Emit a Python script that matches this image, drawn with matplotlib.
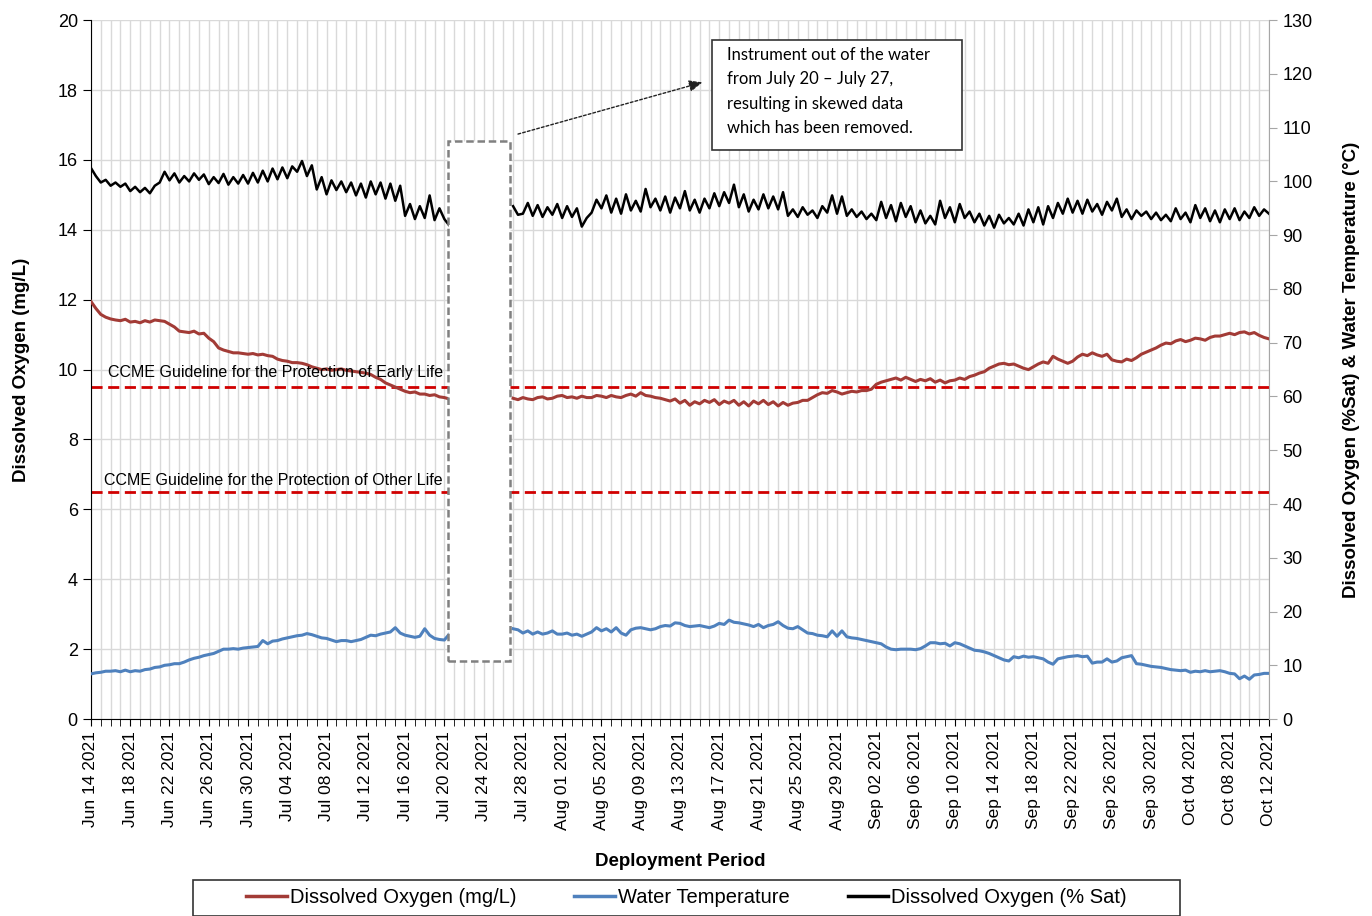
import matplotlib
matplotlib.use("Agg")
import matplotlib.pyplot as plt
import matplotlib.dates as mdates
from matplotlib.patches import Rectangle
import pandas as pd

plt.rcParams['font.family'] = ['Liberation Sans', 'DejaVu Sans']

# readings every 12 h, two logger segments (instrument out of water Jul 20 - Jul 27)
seg1_start = '2021-06-14 00:00'
seg2_start = '2021-07-27 00:00'

# Dissolved oxygen (% sat), right axis
do_sat_1 = [
    102.5, 101.0, 99.8, 100.3, 99.2, 99.8, 99.0, 99.6, 98.2, 99.0,
    98.0, 98.8, 97.8, 99.2, 99.8, 101.8, 100.2, 101.5, 99.8, 101.0,
    100.0, 101.5, 100.3, 101.3, 99.5, 100.8, 99.7, 101.4, 99.4, 100.8,
    99.6, 101.2, 99.6, 101.6, 99.8, 102.0, 100.0, 102.4, 100.4, 102.6,
    100.6, 102.8, 101.8, 103.8, 101.0, 103.0, 98.5, 100.8, 97.6, 100.2,
    98.4, 100.0, 98.0, 99.8, 97.4, 99.6, 97.0, 100.0, 97.6, 99.8,
    96.8, 99.6, 96.4, 99.2, 93.6, 95.8, 93.0, 95.4, 93.2, 97.4,
    92.8, 95.0, 93.0, 91.8,
]
do_sat_2 = [
    95.4, 93.8, 94.0, 96.0, 93.6, 95.6, 93.4, 95.2, 93.8, 95.8,
    93.2, 95.4, 93.4, 95.0, 91.6, 93.2, 94.2, 96.6, 95.0, 97.4,
    94.2, 96.8, 94.0, 97.6, 94.6, 96.4, 94.4, 98.6, 95.2, 96.8,
    94.6, 97.2, 94.2, 97.0, 95.0, 98.2, 94.6, 96.6, 94.2, 96.8,
    95.0, 97.8, 95.4, 98.0, 96.0, 99.4, 95.2, 97.6, 94.4, 96.6,
    94.8, 97.6, 95.0, 97.2, 94.8, 98.0, 93.6, 94.8, 93.4, 95.2,
    93.8, 94.6, 93.2, 95.4, 94.2, 97.4, 94.0, 97.2, 93.6, 94.8,
    93.4, 94.4, 93.0, 94.0, 92.8, 96.2, 93.2, 95.6, 92.6, 96.0,
    93.4, 95.4, 92.4, 94.6, 92.2, 93.6, 92.0, 96.4, 93.2, 95.2,
    92.4, 95.8, 93.2, 94.4, 92.4, 94.0, 91.8, 93.6, 91.4, 93.8,
    92.2, 93.2, 92.0, 94.0, 91.8, 94.8, 92.4, 95.2, 92.0, 95.4,
    93.2, 96.0, 94.0, 96.8, 94.2, 96.4, 94.0, 96.6, 94.4, 95.8,
    93.8, 96.2, 94.6, 96.8, 93.4, 94.8, 93.0, 94.6, 93.6, 94.4,
    93.0, 94.2, 92.8, 93.8, 92.6, 95.0, 93.0, 94.2, 92.4, 95.6,
    93.2, 95.0, 92.6, 94.6, 92.4, 94.8, 93.0, 95.0, 92.8, 94.4,
    93.2, 95.2, 93.6, 94.8, 94.0,
]

# Dissolved oxygen (mg/L), left axis
do_mgl_1 = [
    11.95, 11.75, 11.58, 11.50, 11.45, 11.42, 11.40, 11.44, 11.36, 11.38,
    11.34, 11.40, 11.36, 11.42, 11.40, 11.38, 11.30, 11.22, 11.10, 11.08,
    11.06, 11.10, 11.02, 11.04, 10.90, 10.80, 10.62, 10.56, 10.52, 10.48,
    10.48, 10.46, 10.44, 10.46, 10.42, 10.44, 10.40, 10.38, 10.30, 10.26,
    10.24, 10.20, 10.20, 10.18, 10.14, 10.08, 10.04, 10.00, 10.02, 9.98,
    10.00, 10.02, 9.98, 9.96, 9.94, 9.92, 9.90, 9.86, 9.78, 9.72,
    9.62, 9.56, 9.50, 9.44, 9.38, 9.34, 9.36, 9.30, 9.30, 9.26,
    9.28, 9.22, 9.20, 9.16,
]
do_mgl_2 = [
    9.18, 9.14, 9.20, 9.16, 9.14, 9.20, 9.22, 9.16, 9.18, 9.24,
    9.26, 9.20, 9.22, 9.18, 9.24, 9.20, 9.20, 9.26, 9.24, 9.20,
    9.26, 9.22, 9.20, 9.26, 9.30, 9.24, 9.34, 9.26, 9.24, 9.20,
    9.18, 9.14, 9.10, 9.16, 9.04, 9.12, 8.98, 9.08, 9.02, 9.12,
    9.06, 9.14, 9.00, 9.10, 9.04, 9.12, 8.98, 9.08, 8.96, 9.10,
    9.02, 9.12, 9.00, 9.08, 8.96, 9.06, 8.98, 9.04, 9.06, 9.12,
    9.12, 9.20, 9.28, 9.34, 9.32, 9.40, 9.36, 9.30, 9.34, 9.38,
    9.36, 9.40, 9.40, 9.44, 9.58, 9.64, 9.68, 9.72, 9.76, 9.70,
    9.78, 9.72, 9.66, 9.72, 9.68, 9.74, 9.64, 9.70, 9.62, 9.68,
    9.70, 9.76, 9.72, 9.80, 9.84, 9.90, 9.94, 10.04, 10.10, 10.16,
    10.18, 10.14, 10.16, 10.10, 10.04, 10.00, 10.08, 10.16, 10.22, 10.18,
    10.38, 10.30, 10.24, 10.18, 10.24, 10.36, 10.44, 10.40, 10.48, 10.42,
    10.38, 10.44, 10.28, 10.24, 10.22, 10.30, 10.26, 10.34, 10.44, 10.50,
    10.56, 10.62, 10.70, 10.76, 10.74, 10.82, 10.86, 10.80, 10.84, 10.90,
    10.88, 10.84, 10.92, 10.96, 10.96, 11.00, 11.04, 11.00, 11.06, 11.08,
    11.02, 11.06, 10.98, 10.92, 10.88,
]

# Water temperature (deg C), right axis
temp_1 = [
    8.4, 8.6, 8.7, 8.9, 8.9, 9.0, 8.8, 9.1, 8.8, 9.0,
    8.9, 9.2, 9.3, 9.6, 9.7, 10.0, 10.1, 10.3, 10.3, 10.6,
    11.0, 11.3, 11.5, 11.8, 12.0, 12.2, 12.6, 13.0, 13.0, 13.1,
    13.0, 13.2, 13.3, 13.4, 13.5, 14.6, 14.0, 14.5, 14.6, 14.9,
    15.1, 15.3, 15.5, 15.6, 15.9, 15.7, 15.4, 15.1, 15.0, 14.7,
    14.4, 14.6, 14.6, 14.4, 14.6, 14.8, 15.2, 15.6, 15.5, 15.8,
    16.0, 16.2, 17.0, 16.0, 15.6, 15.4, 15.2, 15.4, 16.8, 15.6,
    15.0, 14.8, 14.7, 15.8,
]
temp_2 = [
    16.8, 16.6, 16.0, 16.4, 15.8, 16.2, 15.8, 16.0, 16.4, 15.8,
    15.8, 16.0, 15.6, 15.8, 15.4, 15.8, 16.2, 17.0, 16.4, 16.8,
    16.2, 17.0, 16.0, 15.6, 16.6, 16.9, 17.0, 16.8, 16.6, 16.8,
    17.2, 17.4, 17.3, 17.9, 17.8, 17.4, 17.2, 17.3, 17.4, 17.2,
    17.0, 17.3, 17.8, 17.6, 18.4, 18.0, 17.9, 17.7, 17.5, 17.2,
    17.6, 17.0, 17.4, 17.6, 18.1, 17.4, 16.9, 16.8, 17.2, 16.6,
    16.0, 15.9, 15.6, 15.5, 15.3, 16.4, 15.4, 16.4, 15.3, 15.1,
    15.0, 14.8, 14.6, 14.4, 14.2, 14.0, 13.4, 13.0, 12.9, 13.0,
    13.0, 13.0, 12.9, 13.1, 13.6, 14.2, 14.2, 14.0, 14.1, 13.6,
    14.2, 14.0, 13.6, 13.2, 12.8, 12.7, 12.5, 12.2, 11.8, 11.4,
    11.0, 10.8, 11.6, 11.4, 11.7, 11.5, 11.6, 11.4, 11.2, 10.6,
    10.2, 11.2, 11.4, 11.6, 11.7, 11.8, 11.6, 11.7, 10.4, 10.6,
    10.6, 11.2, 10.6, 10.8, 11.4, 11.6, 11.8, 10.3, 10.2, 10.0,
    9.8, 9.7, 9.6, 9.4, 9.2, 9.1, 9.0, 9.1, 8.7, 8.9,
    8.8, 9.0, 8.8, 8.9, 9.0, 8.8, 8.5, 8.4, 7.5, 8.0,
    7.4, 8.2, 8.3, 8.5, 8.5,
]

guide_early = 9.5
guide_other = 6.5

t1 = pd.date_range(seg1_start, periods=len(do_mgl_1), freq='12h')
t2 = pd.date_range(seg2_start, periods=len(do_mgl_2), freq='12h')

red = '#A23B36'
blue = '#4F81BD'
grid_c = '#D9D9D9'

fig = plt.figure(figsize=(13.72, 9.16), dpi=100)
ax = fig.add_axes([0.0663, 0.215, 0.8586, 0.763])
ax2 = ax.twinx()

ax.plot(t1, do_mgl_1, color=red, lw=2.2, zorder=3)
ax.plot(t2, do_mgl_2, color=red, lw=2.2, zorder=3)
ax.axhline(guide_early, color='#D00000', lw=2, ls=(0, (4, 2)), zorder=2)
ax.axhline(guide_other, color='#D00000', lw=2, ls=(0, (4, 2)), zorder=2)

ax2.plot(t1, temp_1, color=blue, lw=2.2)
ax2.plot(t2, temp_2, color=blue, lw=2.2)
ax2.plot(t1, do_sat_1, color='black', lw=1.8)
ax2.plot(t2, do_sat_2, color='black', lw=1.8)

x0 = pd.Timestamp('2021-06-14')
x1 = pd.Timestamp('2021-10-12')
ax.set_xlim(x0, x1)
ax.set_ylim(0, 20)
ax2.set_ylim(0, 130)

ax.set_yticks(range(0, 21, 2))
ax2.set_yticks(range(0, 131, 10))
ax.xaxis.set_major_locator(plt.FixedLocator(mdates.date2num(pd.date_range(x0, x1, freq='4D'))))
ax.xaxis.set_minor_locator(plt.FixedLocator(mdates.date2num(pd.date_range(x0, x1, freq='1D'))))
ax.xaxis.set_major_formatter(mdates.DateFormatter('%b %d %Y'))
for lab in ax.get_xticklabels():
    lab.set_rotation(90)

ax.grid(which='both', axis='x', color=grid_c, lw=1)
ax.grid(which='major', axis='y', color=grid_c, lw=1)
ax.set_axisbelow(True)

ax.tick_params(axis='x', which='both', length=5, labelsize=12.5, direction='out')
ax.tick_params(axis='y', length=6, labelsize=13)
ax2.tick_params(axis='y', length=6, labelsize=13, color='#A6A6A6')
for s in ['top', 'right']:
    ax.spines[s].set_visible(False)
for s in ['top', 'left', 'bottom']:
    ax2.spines[s].set_visible(False)
ax2.spines['right'].set_color('#A6A6A6')

ax.set_ylabel('Dissolved Oxygen (mg/L)', fontsize=13.5, fontweight='bold', labelpad=20)
ax2.set_ylabel('Dissolved Oxygen (%Sat) & Water Temperature (\u00b0C)',
               fontsize=13.5, fontweight='bold', labelpad=22)
ax.set_xlabel('Deployment Period', fontsize=13.5, fontweight='bold', labelpad=17)

# guideline labels
ytr = ax.get_yaxis_transform()
ax.text(0.2988, 9.93, 'CCME Guideline for the Protection of Early Life',
        transform=ytr, ha='right', va='center', fontsize=11.5, zorder=4)
ax.text(0.2988, 6.84, 'CCME Guideline for the Protection of Other Life',
        transform=ytr, ha='right', va='center', fontsize=11.5, zorder=4)

# removed-data window
g0 = mdates.date2num(pd.Timestamp('2021-07-20 09:00'))
g1 = mdates.date2num(pd.Timestamp('2021-07-26 16:00'))
ax2.add_patch(Rectangle((g0, 1.66), g1 - g0, 14.88, transform=ax.transData,
                        facecolor='white', edgecolor='#808080', lw=1.8,
                        ls=(0, (3, 1.5)), zorder=5))

ax.annotate('', xy=(0.519, 0.911), xytext=(0.3625, 0.837), xycoords='axes fraction',
            arrowprops=dict(arrowstyle='-|>,head_length=0.8,head_width=0.35',
                            ls=(0, (2, 1.5)), lw=1, color='#222222',
                            shrinkA=0, shrinkB=0), zorder=6)
ax2.add_patch(Rectangle((0.527, 0.814), 0.212, 0.157, transform=ax.transAxes,
                        facecolor='white', edgecolor='#333333', lw=1.2, zorder=6))
ax2.text(0.540, 0.961, 'Instrument out of the water\nfrom July 20 \u2013 July 27,\n'
         'resulting in skewed data\nwhich has been removed.',
         transform=ax.transAxes, ha='left', va='top', fontsize=12,
         family=['Lato', 'DejaVu Sans'], linespacing=1.62, zorder=7)

# legend with its own frame
handles = [plt.Line2D([], [], color=red, lw=2.5),
           plt.Line2D([], [], color=blue, lw=2.5),
           plt.Line2D([], [], color='black', lw=2.5)]
labels = ['Dissolved Oxygen (mg/L)', 'Water Temperature', 'Dissolved Oxygen (% Sat)']
fig.legend(handles, labels, loc='center', bbox_to_anchor=(0.5004, 0.0197), ncol=3,
           frameon=False, fontsize=14.5, handlelength=2.0, handletextpad=0.15,
           columnspacing=2.9)
fig.patches.append(Rectangle((193 / 1372, 0.0), 987 / 1372, 36 / 916,
                             transform=fig.transFigure, facecolor='none',
                             edgecolor='#333333', lw=1.2))

fig.savefig('out.png', dpi=100)
